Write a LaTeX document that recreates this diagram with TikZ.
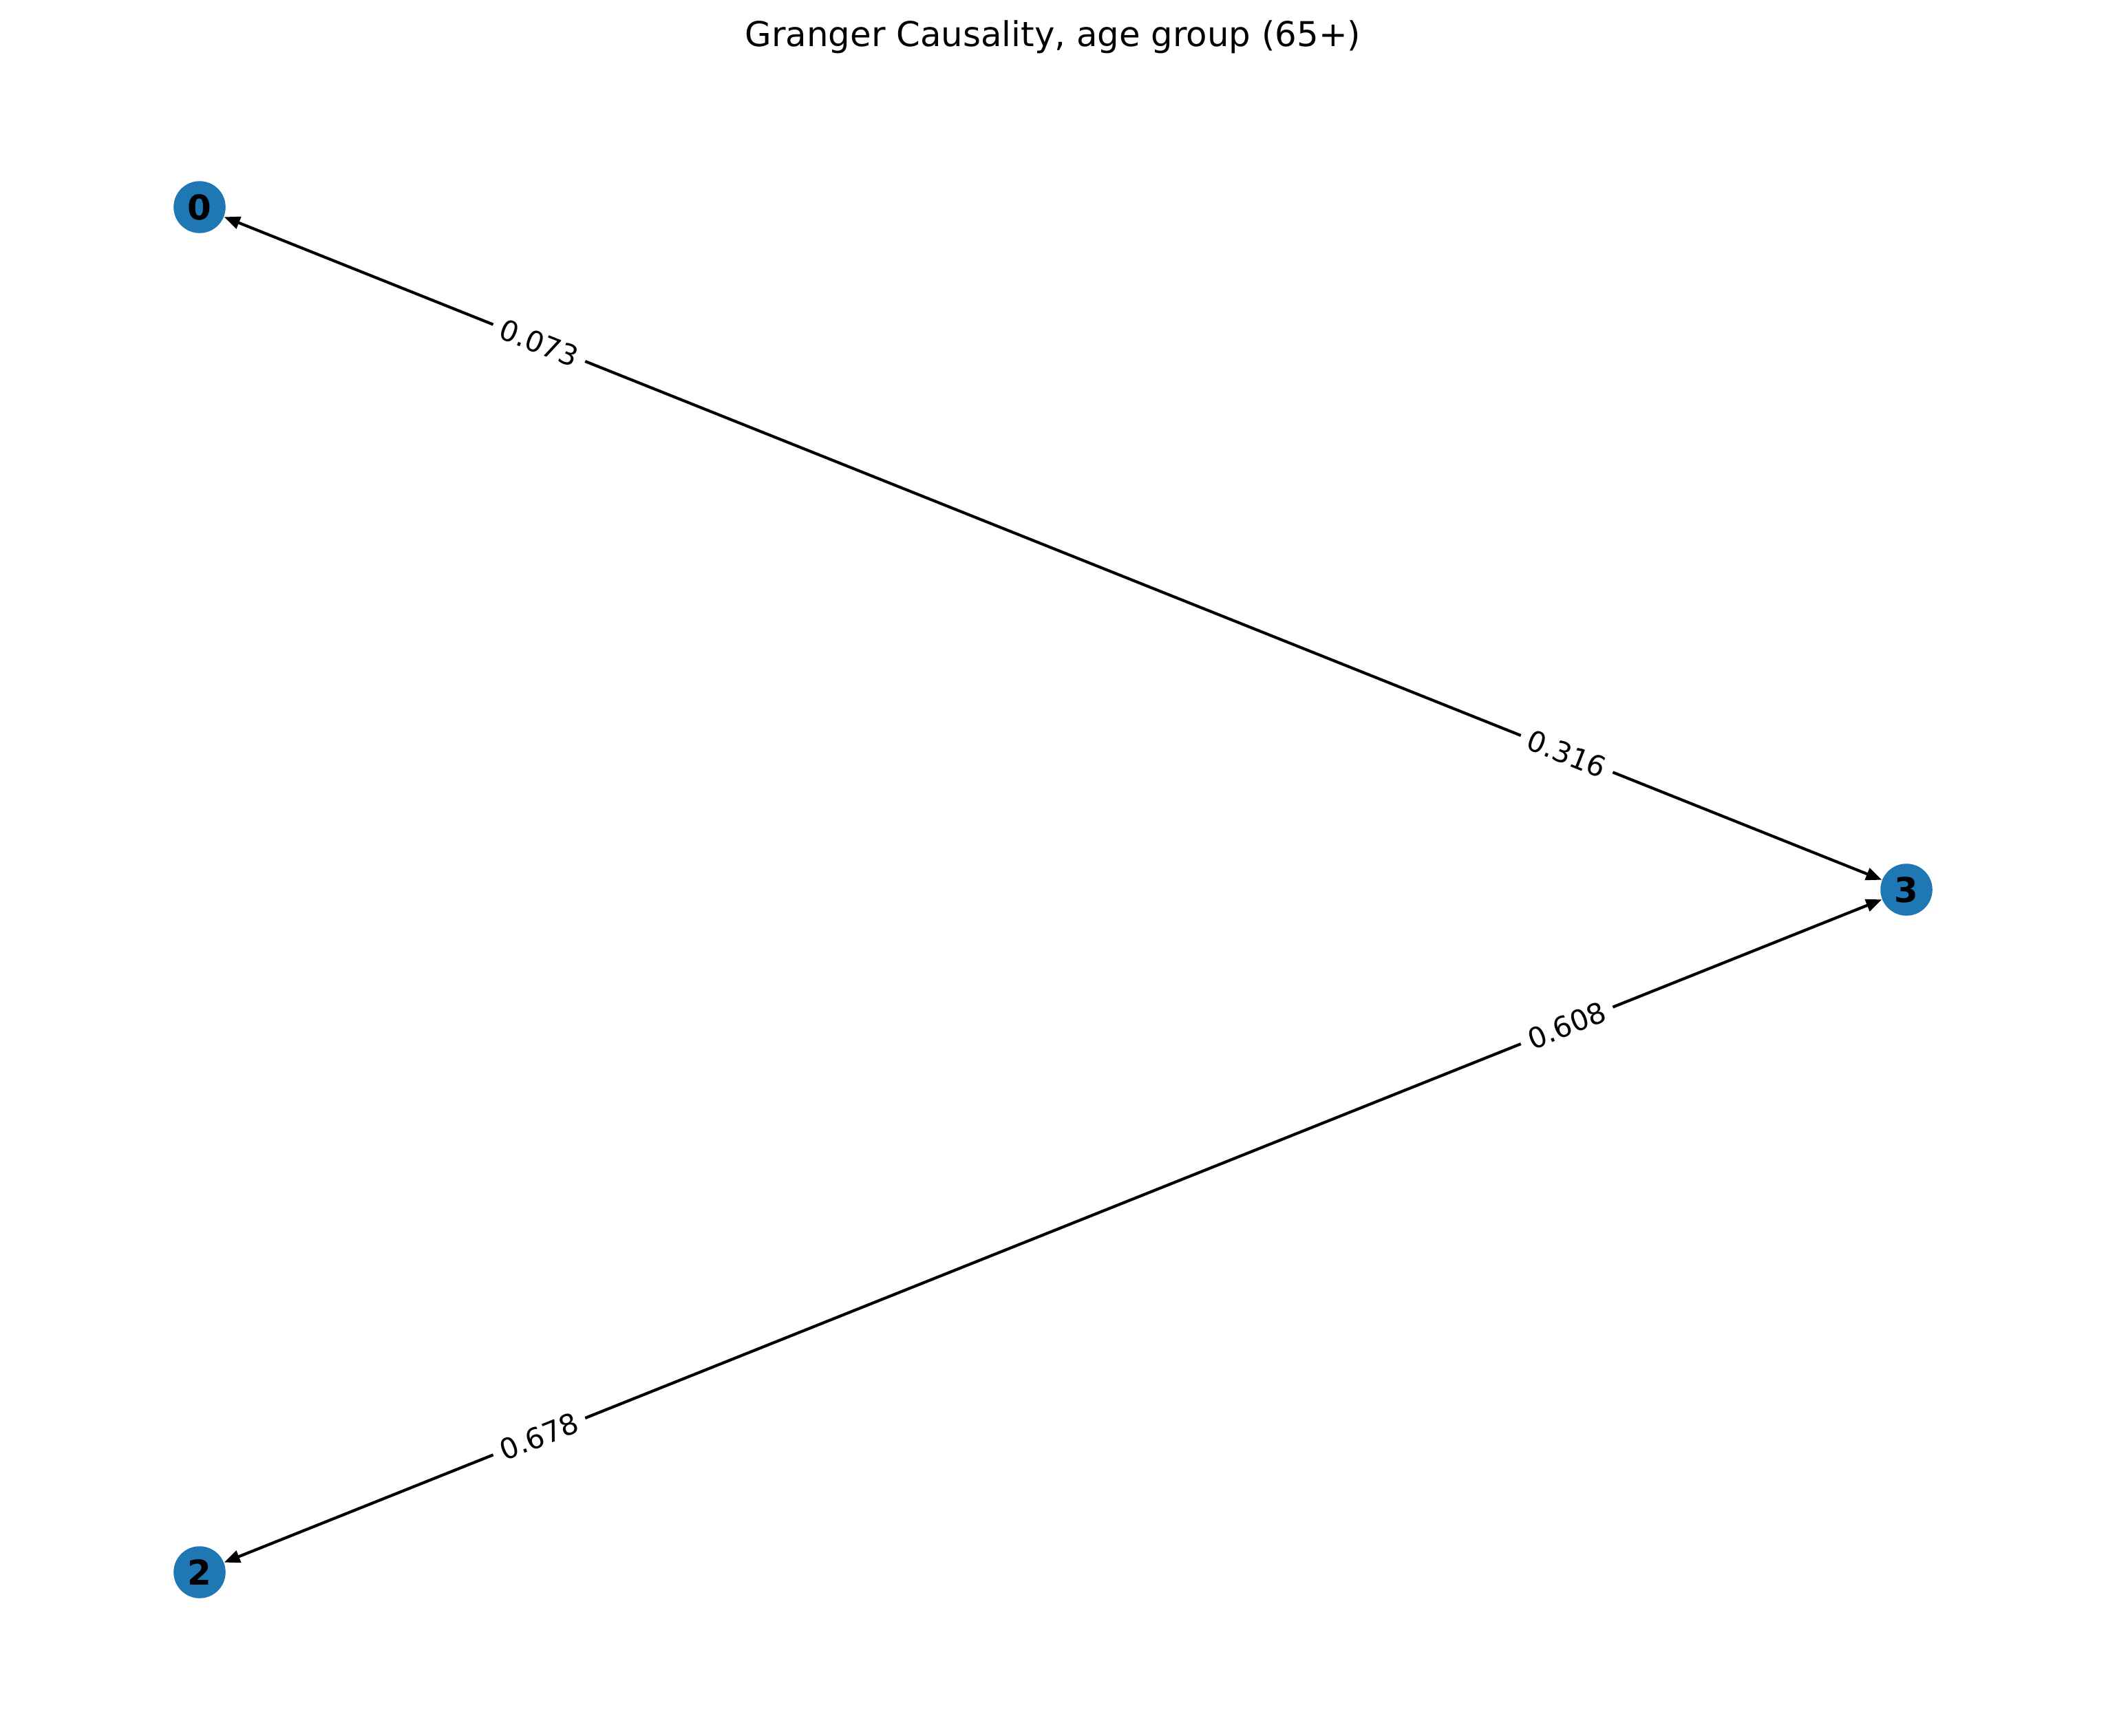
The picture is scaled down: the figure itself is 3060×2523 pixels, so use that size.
\documentclass[tikz,border=0pt]{standalone}
\usepackage{fontspec}
\setmainfont{DejaVu Sans}
\usetikzlibrary{arrows.meta}
\definecolor{nodeblue}{HTML}{1F77B4}

\begin{document}
\begin{tikzpicture}[
    x=0.008467cm, y=-0.008467cm,
    vertex/.style={circle, fill=nodeblue, minimum size=18.2pt, inner sep=0pt, font=\fontsize{12}{14}\selectfont\bfseries},
    weight/.style={fill=white, inner sep=3pt, sloped, font=\fontsize{10}{12}\selectfont},
    edge/.style={line width=1pt, {Triangle[length=5.5pt,width=4.4pt]}-{Triangle[length=5.5pt,width=4.4pt]}},
]
\useasboundingbox (0,0) rectangle (3060,2523);

% Title
\node[anchor=base, font=\fontsize{12}{14}\selectfont] (title) at (1530,67) {Granger Causality, age group (65+)};

% Nodes
\node[vertex] (n0) at (290,301) {0};
\node[vertex] (n3) at (2770,1293) {3};
\node[vertex] (n2) at (290,2285) {2};

% Edges
\draw[edge] (n0) -- node[weight, pos=0.19] {0.073} node[weight, pos=0.81] {0.316} (n3);
\draw[edge] (n2) -- node[weight, pos=0.19] {0.678} node[weight, pos=0.81] {0.608} (n3);

\end{tikzpicture}
\end{document}
